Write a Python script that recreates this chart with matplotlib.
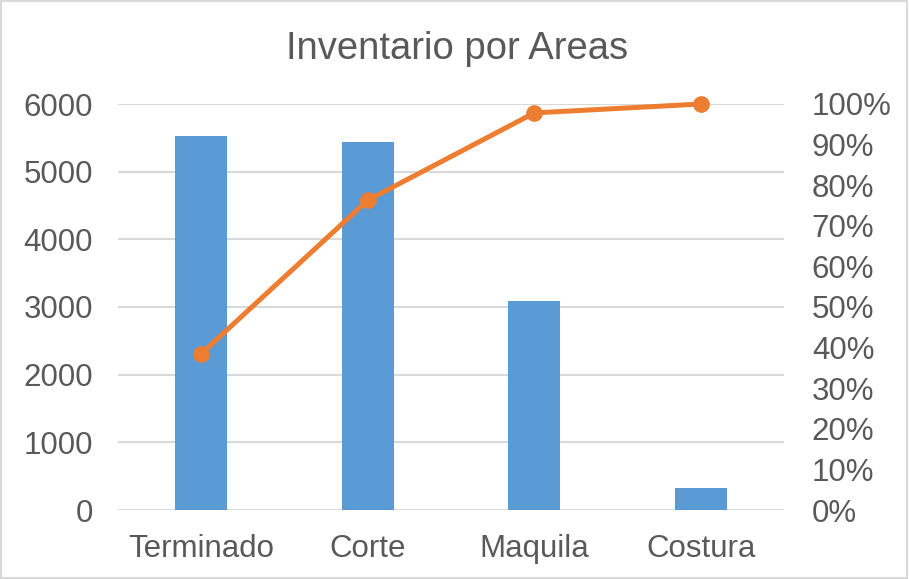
import matplotlib.pyplot as plt
import numpy as np
from matplotlib.patches import Rectangle
from matplotlib.ticker import FuncFormatter

# datos
areas = ["Terminado", "Corte", "Maquila", "Costura"]
inventario = [5530, 5440, 3090, 320]
acumulado = [38.5, 76.3, 97.8, 100.0]

gris = "#595959"
plt.rcParams['font.family'] = ['Liberation Sans', 'DejaVu Sans']

fig = plt.figure(figsize=(9.09, 5.79), dpi=100)
ax = fig.add_axes([118 / 909, 1 - 510 / 579, 666 / 909, 406 / 579])

x = np.arange(len(areas))
ax.bar(x, inventario, width=0.31, color="#5b9bd5", zorder=2)
ax.set_xlim(-0.5, len(areas) - 0.5)
ax.set_ylim(0, 6000)
ax.set_yticks(range(0, 6001, 1000))
ax.set_xticks(x)
ax.set_xticklabels(areas)
ax.grid(axis="y", color="#d9d9d9", linewidth=1.5, zorder=0)
for s in ax.spines.values():
    s.set_visible(False)
ax.tick_params(length=0, labelsize=22.5, colors=gris, pad=18)
ax.tick_params(axis="x", pad=17)

ax2 = ax.twinx()
ax2.plot(x, acumulado, color="#ed7d31", linewidth=3.6, marker="o", markersize=11,
         zorder=3, clip_on=False)
ax2.set_ylim(0, 100)
ax2.set_yticks(range(0, 101, 10))
ax2.yaxis.set_major_formatter(FuncFormatter(lambda v, p: f"{int(v)}%"))
for s in ax2.spines.values():
    s.set_visible(False)
ax2.tick_params(length=0, labelsize=22.5, colors=gris, pad=20)

fig.text(0.503, 1 - 49 / 579, "Inventario por Areas", ha="center", va="center",
         fontsize=27.5, color=gris)

fig.patches.append(Rectangle((0.001, 0.001), 0.997, 0.997, transform=fig.transFigure,
                             fill=False, edgecolor="#d9d9d9", linewidth=1.5))

fig.savefig("out.png", dpi=100)
